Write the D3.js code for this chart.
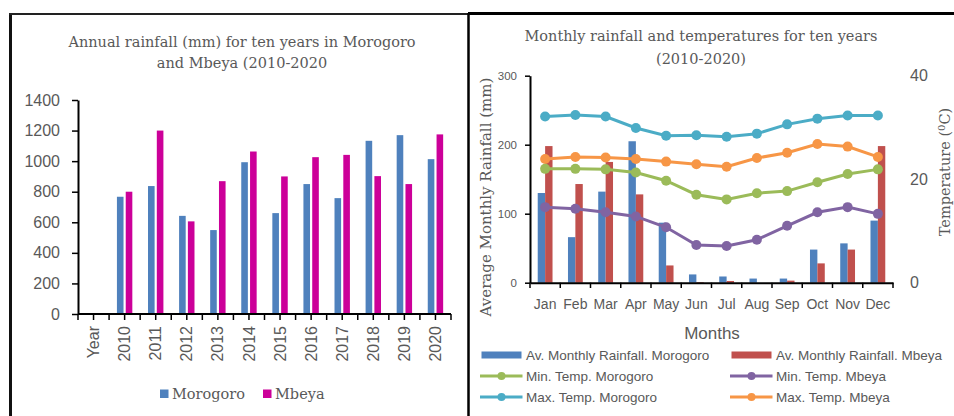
<!DOCTYPE html>
<html>
<head>
<meta charset="utf-8">
<script src="https://cdn.jsdelivr.net/npm/d3@7"></script>
<style>
  body { margin: 0; background: #fff; }
  svg { display: block; }
  text { fill: #595959; }
</style>
</head>
<body>
<svg id="chart" width="954" height="416"></svg>
<script>
// annual chart data
var yearCats = ["Year", "2010", "2011", "2012", "2013", "2014", "2015", "2016", "2017", "2018", "2019", "2020"];
var years = ["2010", "2011", "2012", "2013", "2014", "2015", "2016", "2017", "2018", "2019", "2020"];
var annualMorogoro = [767, 837, 642, 549, 993, 660, 850, 758, 1133, 1170, 1013];
var annualMbeya = [800, 1200, 606, 869, 1063, 900, 1026, 1041, 902, 850, 1175];
var annualTicks = [0, 200, 400, 600, 800, 1000, 1200, 1400];

// monthly chart data
var months = ["Jan", "Feb", "Mar", "Apr", "May", "Jun", "Jul", "Aug", "Sep", "Oct", "Nov", "Dec"];
var rainMorogoro = [130, 66, 132, 205, 87, 12, 9, 6, 6, 48, 57, 90];
var rainMbeya = [198, 143, 175, 128, 25, 1, 2.5, 0, 3, 28, 48, 198];
var minTempMorogoro = [22.0, 22.0, 21.9, 21.3, 19.7, 17.0, 16.1, 17.3, 17.7, 19.4, 21.0, 21.9];
var minTempMbeya = [14.6, 14.3, 13.6, 12.8, 10.7, 7.3, 7.1, 8.3, 11.0, 13.6, 14.6, 13.3];
var maxTempMorogoro = [32.1, 32.4, 32.1, 29.9, 28.4, 28.5, 28.2, 28.8, 30.6, 31.7, 32.3, 32.3];
var maxTempMbeya = [23.9, 24.3, 24.2, 23.9, 23.4, 22.9, 22.4, 24.1, 25.1, 26.8, 26.3, 24.3];
var rainTicks = [0, 100, 200, 300];
var tempTicks = [0, 20, 40];

var svg = d3.select("#chart");
var sans = "'Liberation Sans', Arial, sans-serif";
var serif = "'DejaVu Serif', serif";

// panel frames
svg.append("line").attr("x1", 10.5).attr("x2", 10.5).attr("y1", 13).attr("y2", 416)
  .attr("stroke", "#111").attr("stroke-width", 3);
svg.append("line").attr("x1", 9).attr("x2", 468).attr("y1", 14).attr("y2", 14)
  .attr("stroke", "#222").attr("stroke-width", 2);
svg.append("line").attr("x1", 468).attr("x2", 954).attr("y1", 13.5).attr("y2", 13.5)
  .attr("stroke", "#000").attr("stroke-width", 3);
svg.append("line").attr("x1", 468.5).attr("x2", 468.5).attr("y1", 13).attr("y2", 416)
  .attr("stroke", "#000").attr("stroke-width", 2.5);

// ---------- left: annual rainfall ----------
var blue = "#4f81bd", magenta = "#cc0099";

svg.append("text").attr("x", 242).attr("y", 47).attr("text-anchor", "middle")
  .style("font-family", serif).style("font-size", "14.5px")
  .text("Annual rainfall (mm) for ten years in Morogoro");
svg.append("text").attr("x", 242).attr("y", 68).attr("text-anchor", "middle")
  .style("font-family", serif).style("font-size", "14.5px")
  .text("and Mbeya (2010-2020");

var x0 = d3.scaleBand().domain(yearCats).range([78, 451]);
var y0 = d3.scaleLinear().domain([0, 1400]).range([314, 100]);
var x1 = d3.scaleBand().domain(["Morogoro", "Mbeya"]).range([-7.7, 7.7]).paddingInner(0.25);

var gA = svg.append("g");
years.forEach(function(yr, i) {
  var cx = x0(yr) + x0.bandwidth() / 2;
  gA.append("rect").attr("x", cx + x1("Morogoro")).attr("width", x1.bandwidth())
    .attr("y", y0(annualMorogoro[i])).attr("height", y0(0) - y0(annualMorogoro[i]))
    .attr("fill", blue);
  gA.append("rect").attr("x", cx + x1("Mbeya")).attr("width", x1.bandwidth())
    .attr("y", y0(annualMbeya[i])).attr("height", y0(0) - y0(annualMbeya[i]))
    .attr("fill", magenta);
});

var yAxisA = svg.append("g").attr("transform", "translate(78,0)")
  .call(d3.axisLeft(y0).tickValues(annualTicks).tickFormat(d3.format("d"))
    .tickSize(6).tickPadding(12).tickSizeOuter(0));
yAxisA.select(".domain").attr("stroke", "#000").attr("stroke-width", 2);
yAxisA.selectAll(".tick line").attr("stroke", "#000").attr("stroke-width", 1.5);
yAxisA.selectAll("text").style("font-family", sans).style("font-size", "16px").attr("fill", "#595959");

// bottom axis with ticks at band edges and centres
var xAxisA = svg.append("g");
xAxisA.append("line").attr("x1", 78).attr("x2", 451).attr("y1", 314).attr("y2", 314)
  .attr("stroke", "#000").attr("stroke-width", 2);
var halfTicks = [];
yearCats.forEach(function(c) { halfTicks.push(x0(c), x0(c) + x0.bandwidth() / 2); });
halfTicks.push(451);
xAxisA.selectAll("line.t").data(halfTicks).enter().append("line").attr("class", "t")
  .attr("x1", function(d) { return d; }).attr("x2", function(d) { return d; })
  .attr("y1", 314).attr("y2", 320).attr("stroke", "#000").attr("stroke-width", 1.5);
xAxisA.selectAll("text").data(yearCats).enter().append("text")
  .attr("transform", function(d) { return "translate(" + (x0(d) + x0.bandwidth() / 2) + ",326) rotate(-90)"; })
  .attr("text-anchor", "end").attr("dy", "0.35em")
  .style("font-family", sans).style("font-size", "16px")
  .text(function(d) { return d; });

// left legend
var legA = [{ name: "Morogoro", color: blue, x: 160 }, { name: "Mbeya", color: magenta, x: 263 }];
legA.forEach(function(l) {
  svg.append("rect").attr("x", l.x).attr("y", 389.5).attr("width", 8.5).attr("height", 8.5).attr("fill", l.color);
  svg.append("text").attr("x", l.x + 12).attr("y", 399)
    .style("font-family", serif).style("font-size", "14.5px").text(l.name);
});

// ---------- right: monthly rainfall and temperature ----------
var rainBlue = "#4f81bd", rainRed = "#c0504d";
var cGreen = "#9bbb59", cPurple = "#8064a2", cCyan = "#4bacc6", cOrange = "#f79646";

svg.append("text").attr("x", 701).attr("y", 41).attr("text-anchor", "middle")
  .style("font-family", serif).style("font-size", "14.5px")
  .text("Monthly rainfall and temperatures for ten years");
svg.append("text").attr("x", 701).attr("y", 64).attr("text-anchor", "middle")
  .style("font-family", serif).style("font-size", "14.5px")
  .text("(2010-2020)");

var xm = d3.scaleBand().domain(months).range([530, 893]);
var yl = d3.scaleLinear().domain([0, 300]).range([282.7, 75.7]);
var yr = d3.scaleLinear().domain([0, 40]).range([282.7, 75.7]);
var xb = d3.scaleBand().domain(["Morogoro", "Mbeya"]).range([-7.4, 7.4]);

var gB = svg.append("g");
months.forEach(function(m, i) {
  var cx = xm(m) + xm.bandwidth() / 2;
  gB.append("rect").attr("x", cx + xb("Morogoro")).attr("width", xb.bandwidth())
    .attr("y", yl(rainMorogoro[i])).attr("height", yl(0) - yl(rainMorogoro[i])).attr("fill", rainBlue);
  gB.append("rect").attr("x", cx + xb("Mbeya")).attr("width", xb.bandwidth())
    .attr("y", yl(rainMbeya[i])).attr("height", yl(0) - yl(rainMbeya[i])).attr("fill", rainRed);
});

var yAxisL = svg.append("g").attr("transform", "translate(530,0)")
  .call(d3.axisLeft(yl).tickValues(rainTicks).tickSize(5).tickPadding(8).tickSizeOuter(0));
yAxisL.select(".domain").attr("stroke", "#000").attr("stroke-width", 2);
yAxisL.selectAll(".tick line").attr("stroke", "#000").attr("stroke-width", 1.5);
yAxisL.selectAll("text").style("font-family", sans).style("font-size", "11.5px").attr("fill", "#595959");

var yAxisR = svg.append("g").attr("transform", "translate(904,0)")
  .call(d3.axisRight(yr).tickValues(tempTicks).tickSize(0).tickPadding(6));
yAxisR.select(".domain").remove();
yAxisR.selectAll("text").style("font-family", sans).style("font-size", "16px").attr("fill", "#595959");

var xAxisM = svg.append("g").attr("transform", "translate(0,282.7)")
  .call(d3.axisBottom(xm).tickSize(0).tickPadding(16));
xAxisM.select(".domain").attr("stroke", "#000").attr("stroke-width", 2);
xAxisM.selectAll("text").style("font-family", sans).style("font-size", "14px").attr("fill", "#595959");
svg.append("g").selectAll("line").data(months.map(function(m) { return xm(m); }).concat([893]))
  .enter().append("line")
  .attr("x1", function(d) { return d; }).attr("x2", function(d) { return d; })
  .attr("y1", 282.7).attr("y2", 288).attr("stroke", "#000").attr("stroke-width", 1.5);

var series = [
  { name: "Max. Temp. Morogoro", values: maxTempMorogoro, color: cCyan },
  { name: "Max. Temp. Mbeya", values: maxTempMbeya, color: cOrange },
  { name: "Min. Temp. Morogoro", values: minTempMorogoro, color: cGreen },
  { name: "Min. Temp. Mbeya", values: minTempMbeya, color: cPurple }
];
var line = d3.line()
  .x(function(d, i) { return xm(months[i]) + xm.bandwidth() / 2; })
  .y(function(d) { return yr(d); });
series.forEach(function(s) {
  var g = svg.append("g");
  g.append("path").attr("d", line(s.values)).attr("fill", "none")
    .attr("stroke", s.color).attr("stroke-width", 3);
  g.selectAll("circle").data(s.values).enter().append("circle")
    .attr("cx", function(d, i) { return xm(months[i]) + xm.bandwidth() / 2; })
    .attr("cy", function(d) { return yr(d); })
    .attr("r", 5).attr("fill", s.color);
});

// axis titles
svg.append("text").attr("x", 712).attr("y", 339).attr("text-anchor", "middle")
  .style("font-family", sans).style("font-size", "17px").text("Months");
svg.append("text").attr("transform", "translate(491,197) rotate(-90)").attr("text-anchor", "middle")
  .style("font-family", serif).style("font-size", "15px").text("Average Monthly Rainfall (mm)");
var tt = svg.append("text").attr("transform", "translate(950,172) rotate(-90)").attr("text-anchor", "middle")
  .style("font-family", serif).style("font-size", "14.5px");
tt.append("tspan").text("Temperature (");
tt.append("tspan").attr("baseline-shift", "super").style("font-size", "10px").text("0");
tt.append("tspan").text("C)");

// right legend
var legB = [
  { name: "Av. Monthly Rainfall. Morogoro", color: rainBlue, type: "bar", col: 0, row: 0 },
  { name: "Av. Monthly Rainfall. Mbeya", color: rainRed, type: "bar", col: 1, row: 0 },
  { name: "Min. Temp. Morogoro", color: cGreen, type: "line", col: 0, row: 1 },
  { name: "Min. Temp. Mbeya", color: cPurple, type: "line", col: 1, row: 1 },
  { name: "Max. Temp. Morogoro", color: cCyan, type: "line", col: 0, row: 2 },
  { name: "Max. Temp. Mbeya", color: cOrange, type: "line", col: 1, row: 2 }
];
var legCols = [480, 730], legRows = [355, 376, 397];
legB.forEach(function(l) {
  var lx = legCols[l.col], ly = legRows[l.row];
  if (l.type === "bar") {
    svg.append("rect").attr("x", lx + 1.5).attr("y", ly - 3.5).attr("width", 40).attr("height", 7).attr("fill", l.color);
  } else {
    svg.append("line").attr("x1", lx).attr("x2", lx + 42.5).attr("y1", ly).attr("y2", ly)
      .attr("stroke", l.color).attr("stroke-width", 3);
    svg.append("circle").attr("cx", lx + 21.5).attr("cy", ly).attr("r", 4).attr("fill", l.color);
  }
  svg.append("text").attr("x", lx + 46).attr("y", ly).attr("dy", "0.35em")
    .style("font-family", sans).style("font-size", "13.5px").text(l.name);
});
</script>
</body>
</html>
